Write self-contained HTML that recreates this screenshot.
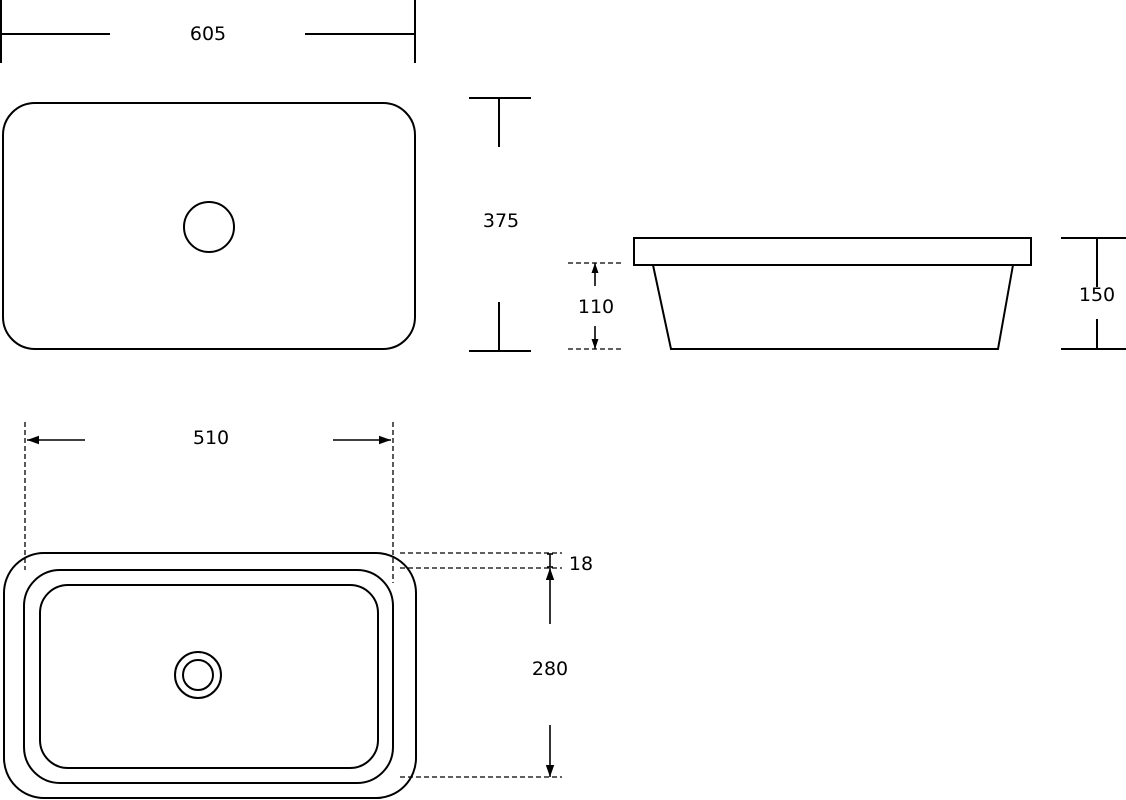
<!DOCTYPE html>
<html><head><meta charset="utf-8"><style>html,body{margin:0;padding:0;background:#fff;width:1126px;height:800px;overflow:hidden}svg{display:block}</style></head><body>
<svg width="1126" height="800" viewBox="0 0 1126 800" xmlns="http://www.w3.org/2000/svg">
<defs><marker id="a" viewBox="0 0 10 10" refX="10" refY="5" markerWidth="12" markerHeight="10" markerUnits="userSpaceOnUse" orient="auto"><path d="M0,1.5 L10,5 L0,8.5 z" fill="#000"/></marker>
<marker id="b" viewBox="0 0 10 10" refX="10" refY="5" markerWidth="18" markerHeight="12" markerUnits="userSpaceOnUse" orient="auto"><path d="M0,1.5 L10,5 L0,8.5 z" fill="#000"/></marker></defs>
<g stroke="#000" stroke-width="2" fill="none">
<rect x="3" y="103" width="412" height="246" rx="32"/>
<circle cx="209" cy="227" r="25"/>
<line x1="0" y1="34" x2="110" y2="34"/><line x1="305" y1="34" x2="415" y2="34"/>
<line x1="415" y1="0" x2="415" y2="63"/><line x1="1" y1="0" x2="1" y2="63"/>
<line x1="469" y1="98" x2="531" y2="98"/><line x1="499" y1="98" x2="499" y2="147"/>
<line x1="469" y1="351" x2="531" y2="351"/><line x1="499" y1="302" x2="499" y2="351"/>
<rect x="634" y="238" width="397" height="27"/>
<path d="M653,265 L671,349 L998,349 L1013,265"/>
<line x1="1061" y1="238" x2="1126" y2="238"/><line x1="1061" y1="349" x2="1126" y2="349"/>
<line x1="1097" y1="238" x2="1097" y2="287"/><line x1="1097" y1="319" x2="1097" y2="349"/>
<rect x="4" y="553" width="412" height="245" rx="40"/>
<rect x="24" y="570" width="369" height="213" rx="36"/>
<rect x="40" y="585" width="338" height="183" rx="28"/>
<circle cx="198" cy="675" r="23"/><circle cx="198" cy="675" r="15"/>
</g>
<g stroke="#000" stroke-width="1.3" fill="none" stroke-dasharray="5,3">
<line x1="568" y1="263" x2="624" y2="263"/><line x1="568" y1="349" x2="624" y2="349"/>
<line x1="25" y1="422" x2="25" y2="570"/><line x1="393" y1="422" x2="393" y2="583"/>
<line x1="400" y1="553" x2="562" y2="553"/><line x1="400" y1="568" x2="562" y2="568"/><line x1="400" y1="777" x2="562" y2="777"/>
</g>
<g stroke="#000" stroke-width="1.6" fill="none">
<line x1="595" y1="286" x2="595" y2="263" marker-end="url(#a)"/>
<line x1="595" y1="326" x2="595" y2="349" marker-end="url(#a)"/>
<line x1="85" y1="440" x2="27" y2="440" marker-end="url(#b)"/>
<line x1="333" y1="440" x2="391" y2="440" marker-end="url(#b)"/>
<line x1="550" y1="624" x2="550" y2="568" marker-end="url(#b)"/>
<line x1="550" y1="725" x2="550" y2="777" marker-end="url(#b)"/>
<line x1="550" y1="554" x2="550" y2="567"/><line x1="547" y1="554" x2="553" y2="554"/><line x1="547" y1="567" x2="553" y2="567"/>
</g>
<g font-family="DejaVu Sans, Liberation Sans, sans-serif" font-size="19" fill="#000" text-anchor="middle">
<text x="208" y="40">605</text>
<text x="501" y="227">375</text>
<text x="596" y="313">110</text>
<text x="1097" y="301">150</text>
<text x="211" y="444">510</text>
<text x="581" y="570">18</text>
<text x="550" y="675">280</text>
</g>
</svg>
</body></html>
